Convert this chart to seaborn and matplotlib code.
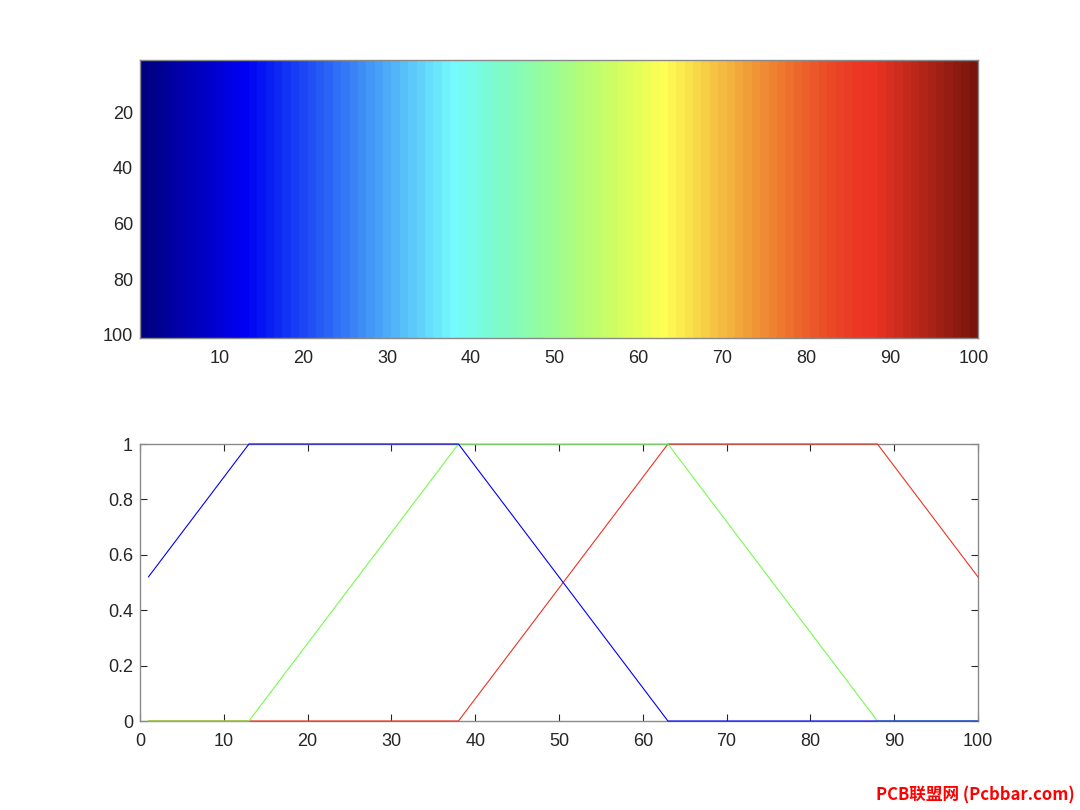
import numpy as np
import pandas as pd
import matplotlib
matplotlib.use("Agg")
import matplotlib.pyplot as plt
from matplotlib.colors import ListedColormap
import seaborn as sns

sns.set_theme(style="white")
plt.rcParams['font.family'] = ['Liberation Sans', 'DejaVu Sans']

# Breakpoints of the jet(100) channels
red_x = [1, 38, 63, 88, 100]
red_y = [0, 0, 1, 1, 0.52]
green_x = [1, 13, 38, 63, 88, 100]
green_y = [0, 0, 1, 1, 0, 0]
blue_x = [1, 13, 38, 63, 100]
blue_y = [0.52, 1, 1, 0, 0]

n_colors = 100
x_ticks = [10, 20, 30, 40, 50, 60, 70, 80, 90, 100]
y_ticks_img = [20, 40, 60, 80, 100]
y_ticks_line = [0, 0.2, 0.4, 0.6, 0.8, 1]
x_ticks_line = [0, 10, 20, 30, 40, 50, 60, 70, 80, 90, 100]


def display_tone(rgb):
    """Match the screenshot's colour rendering (sRGB shown in Display-P3 values)."""
    rgb = np.atleast_2d(np.asarray(rgb, dtype=float))
    lin = np.where(rgb <= 0.04045, rgb / 12.92, ((rgb + 0.055) / 1.055) ** 2.4)
    m = np.array([[0.8225, 0.1774, 0.0],
                  [0.0332, 0.9669, 0.0],
                  [0.0171, 0.0724, 0.9108]])
    out = np.clip(lin @ m.T, 0, 1)
    enc = np.where(out <= 0.0031308, out * 12.92, 1.055 * out ** (1 / 2.4) - 0.055)
    return np.clip(enc, 0, 1)


cols = np.arange(1, n_colors + 1)
rgb = np.column_stack([np.interp(cols, red_x, red_y),
                       np.interp(cols, green_x, green_y),
                       np.interp(cols, blue_x, blue_y)])
cmap = ListedColormap(display_tone(rgb))

fig = plt.figure(figsize=(10.8, 8.1), dpi=100)
ax1 = fig.add_axes([140/1080, 1-338/810, 838/1080, 278/810])
ax2 = fig.add_axes([140/1080, 1-721/810, 838/1080, 277/810])

img = np.tile(cols, (n_colors, 1))
sns.heatmap(img, cmap=cmap, cbar=False, ax=ax1, vmin=0.5, vmax=n_colors + 0.5)
ax1.set_xticks([t - 0.5 for t in x_ticks])
ax1.set_xticklabels([str(t) for t in x_ticks], rotation=0)
ax1.set_yticks([t - 0.5 for t in y_ticks_img])
ax1.set_yticklabels([str(t) for t in y_ticks_img], rotation=0)
ax1.set_xlim(0, n_colors)
ax1.set_ylim(n_colors, 0)

df = pd.concat([
    pd.DataFrame({'x': red_x, 'y': red_y, 'ch': 'r'}),
    pd.DataFrame({'x': green_x, 'y': green_y, 'ch': 'g'}),
    pd.DataFrame({'x': blue_x, 'y': blue_y, 'ch': 'b'}),
])
pal = {k: tuple(display_tone(c)[0]) for k, c in
       {'r': (1, 0, 0), 'g': (0, 1, 0), 'b': (0, 0, 1)}.items()}
sns.lineplot(data=df, x='x', y='y', hue='ch', palette=pal,
             linewidth=0.8, legend=False, ax=ax2, estimator=None, sort=False)
for ln in ax2.lines:
    ln.set_clip_on(False)
    ln.set_zorder(3)
ax2.set_xlim(0, 100)
ax2.set_ylim(0, 1)
ax2.set_xticks(x_ticks_line)
ax2.set_xticklabels([str(t) for t in x_ticks_line])
ax2.set_yticks(y_ticks_line)
ax2.set_yticklabels(['0', '0.2', '0.4', '0.6', '0.8', '1'])
ax2.set_xlabel('')
ax2.set_ylabel('')

for ax in (ax1, ax2):
    for s in ax.spines.values():
        s.set_visible(True)
        s.set_color('#8a8a8a')
        s.set_linewidth(1.0)
        s.set_zorder(2)
    ax.tick_params(direction='in', length=5, width=0.8, color='#262626',
                   labelsize=13, labelcolor='#262626',
                   top=True, right=True, bottom=True, left=True)
    ax.tick_params(axis='x', pad=8.5)
    ax.tick_params(axis='y', pad=5)

fig.text(1075/1080, 1-795/810, 'PCB联盟网 (Pcbbar.com)', color='red',
         fontsize=12, fontweight='bold', ha='right', va='center',
         family=['Noto Sans CJK SC', 'DejaVu Sans'])

fig.savefig('out.png', dpi=100, facecolor='white')
